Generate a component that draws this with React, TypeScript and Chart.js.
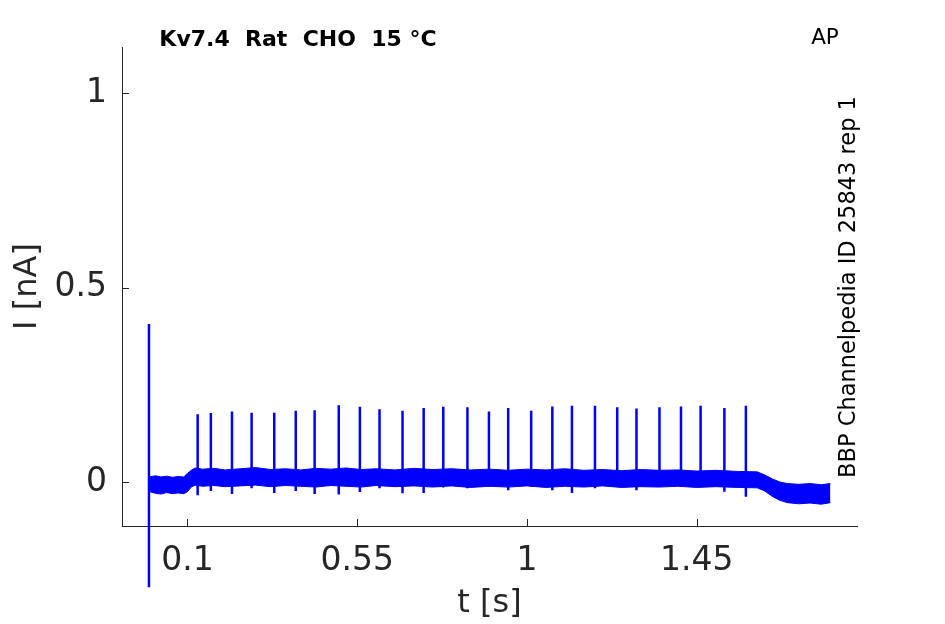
import { useEffect, useRef } from 'react';
import { Chart, registerables } from 'chart.js';

Chart.register(...registerables);

// noise band of the recorded current (upper / lower edge), nA
const bandTime = [
  0.0, 0.015, 0.03, 0.045, 0.06, 0.075, 0.09, 0.1, 0.11, 0.12, 0.14, 0.17, 0.2, 0.24, 0.28, 0.32, 0.36, 0.4,
  0.44, 0.48, 0.52, 0.56, 0.6, 0.65, 0.7, 0.75, 0.8, 0.85, 0.9, 0.95, 1.0, 1.05, 1.1, 1.15, 1.2, 1.25, 1.3,
  1.35, 1.4, 1.45, 1.5, 1.56, 1.61, 1.63, 1.65, 1.67, 1.69, 1.72, 1.75, 1.78, 1.804,
];
const bandUpper = [
  0.014, 0.017, 0.014, 0.016, 0.013, 0.015, 0.014, 0.023, 0.031, 0.037, 0.034, 0.036, 0.032, 0.035, 0.038,
  0.033, 0.035, 0.032, 0.036, 0.034, 0.037, 0.033, 0.035, 0.032, 0.036, 0.033, 0.035, 0.032, 0.034, 0.031,
  0.034, 0.032, 0.035, 0.031, 0.033, 0.03, 0.033, 0.031, 0.032, 0.029, 0.031, 0.028, 0.027, 0.019, 0.009,
  0.001, -0.003, -0.005, -0.003, -0.006, -0.003,
];
const bandLower = [
  -0.024, -0.028, -0.03, -0.026, -0.029, -0.027, -0.029, -0.024, -0.012, -0.007, -0.01, -0.008, -0.011,
  -0.009, -0.007, -0.011, -0.008, -0.01, -0.012, -0.008, -0.01, -0.012, -0.008, -0.011, -0.009, -0.012,
  -0.009, -0.013, -0.01, -0.012, -0.009, -0.013, -0.01, -0.012, -0.009, -0.013, -0.011, -0.012, -0.01,
  -0.013, -0.011, -0.013, -0.014, -0.022, -0.036, -0.046, -0.052, -0.055, -0.053, -0.056, -0.052,
];

// evoked spikes: time, peak and trough
const spikeTime = [
  0.127, 0.162, 0.218, 0.27, 0.33, 0.387, 0.437, 0.501, 0.557, 0.609, 0.67, 0.726, 0.778, 0.842, 0.899,
  0.95, 1.011, 1.067, 1.119, 1.18, 1.239, 1.29, 1.351, 1.408, 1.46, 1.523, 1.58,
];
const spikePeak = [
  0.175, 0.178, 0.182, 0.179, 0.179, 0.184, 0.185, 0.198, 0.194, 0.188, 0.184, 0.191, 0.194, 0.193, 0.182,
  0.191, 0.184, 0.195, 0.197, 0.197, 0.193, 0.19, 0.193, 0.195, 0.197, 0.191, 0.197,
];
const spikeTrough = [
  -0.033, -0.022, -0.03, -0.015, -0.027, -0.022, -0.03, -0.031, -0.025, -0.015, -0.028, -0.027, -0.013,
  -0.015, -0.011, -0.02, -0.011, -0.02, -0.027, -0.015, -0.011, -0.02, -0.011, -0.011, -0.011, -0.024,
  -0.037,
];

// capacitive artifact at the start
const artifactTime = [-0.002, -0.002];
const artifactCurrent = [0.407, -0.269];

const xTicks = [0.1, 0.55, 1, 1.45];
const yTicks = [0, 0.5, 1];

const AXIS = '#262626';
const BLUE = '#0000ff';

const textPlugin = {
  id: 'annotText',
  afterDraw(chart: Chart) {
    const { ctx, chartArea, scales } = chart;
    ctx.save();
    // inward tick marks
    ctx.strokeStyle = AXIS;
    ctx.lineWidth = 1;
    ctx.beginPath();
    xTicks.forEach(v => {
      const px = Math.round(scales.x.getPixelForValue(v)) + 0.5;
      ctx.moveTo(px, chartArea.bottom);
      ctx.lineTo(px, chartArea.bottom - 7);
    });
    yTicks.forEach(v => {
      const py = Math.round(scales.y.getPixelForValue(v)) + 0.5;
      ctx.moveTo(chartArea.left, py);
      ctx.lineTo(chartArea.left + 7, py);
    });
    ctx.stroke();

    ctx.fillStyle = '#000';
    ctx.textBaseline = 'middle';
    ctx.textAlign = 'center';
    ctx.font = 'bold 22px "DejaVu Sans"';
    ctx.fillText('Kv7.4  Rat  CHO  15 °C', 298, 40);
    ctx.font = '21.5px "DejaVu Sans"';
    ctx.fillText('AP', 825, 38);
    ctx.font = '22.5px "DejaVu Sans"';
    ctx.translate(849, 287);
    ctx.rotate(-Math.PI / 2);
    ctx.fillText('BBP Channelpedia ID 25843 rep 1', 0, 0);
    ctx.restore();
  },
};

export default function App() {
  const canvasRef = useRef<HTMLCanvasElement>(null);
  const chartRef = useRef<Chart | null>(null);

  useEffect(() => {
    if (!canvasRef.current) return;
    if (chartRef.current) chartRef.current.destroy();

    Chart.defaults.font.family = '"DejaVu Sans"';

    const spikeData: { x: number; y: number | null }[] = [];
    spikeTime.forEach((t, i) => {
      spikeData.push({ x: t, y: spikeTrough[i] }, { x: t, y: spikePeak[i] }, { x: t, y: null });
    });

    chartRef.current = new Chart(canvasRef.current, {
      type: 'line',
      data: {
        datasets: [
          {
            data: bandTime.map((t, i) => ({ x: t, y: bandUpper[i] })),
            borderColor: BLUE,
            backgroundColor: BLUE,
            borderWidth: 1,
            pointRadius: 0,
            fill: '+1',
          },
          {
            data: bandTime.map((t, i) => ({ x: t, y: bandLower[i] })),
            borderColor: BLUE,
            borderWidth: 1,
            pointRadius: 0,
            fill: false,
          },
          {
            data: spikeData,
            borderColor: BLUE,
            borderWidth: 2.5,
            pointRadius: 0,
            spanGaps: false,
          },
          {
            data: artifactTime.map((t, i) => ({ x: t, y: artifactCurrent[i] })),
            borderColor: BLUE,
            borderWidth: 2.5,
            pointRadius: 0,
            clip: false,
          },
        ],
      },
      options: {
        responsive: true,
        maintainAspectRatio: false,
        animation: false,
        layout: { padding: { left: 0, top: 47, right: 88, bottom: 0 } },
        plugins: { legend: { display: false }, tooltip: { enabled: false } },
        scales: {
          x: {
            type: 'linear',
            min: -0.0735,
            max: 1.8745,
            afterBuildTicks: s => {
              s.ticks = xTicks.map(v => ({ value: v }));
            },
            afterFit: s => {
              s.height = 98;
            },
            grid: { display: false, drawTicks: false, tickLength: 0 },
            border: { display: true, color: AXIS, width: 1 },
            ticks: {
              color: AXIS,
              font: { size: 33 },
              padding: 16,
              maxRotation: 0,
              autoSkip: false,
              callback: v => String(v),
            },
            title: { display: true, text: 't [s]', color: AXIS, font: { size: 32 }, padding: { bottom: 1 } },
          },
          y: {
            type: 'linear',
            min: -0.112,
            max: 1.118,
            afterBuildTicks: s => {
              s.ticks = yTicks.map(v => ({ value: v }));
            },
            afterFit: s => {
              s.width = 122;
            },
            grid: { display: false, drawTicks: false, tickLength: 0 },
            border: { display: true, color: AXIS, width: 1 },
            ticks: {
              color: AXIS,
              font: { size: 33 },
              padding: 15,
              autoSkip: false,
              callback: v => String(v),
            },
            title: { display: true, text: 'I [nA]', color: AXIS, font: { size: 32 }, padding: { top: 8 } },
          },
        },
      },
      plugins: [textPlugin],
    });

    return () => {
      if (chartRef.current) {
        chartRef.current.destroy();
        chartRef.current = null;
      }
    };
  }, []);

  return (
    <div style={{ position: 'absolute', left: 0, top: 0, width: 945, height: 624, background: '#fff' }}>
      <canvas ref={canvasRef}></canvas>
    </div>
  );
}
